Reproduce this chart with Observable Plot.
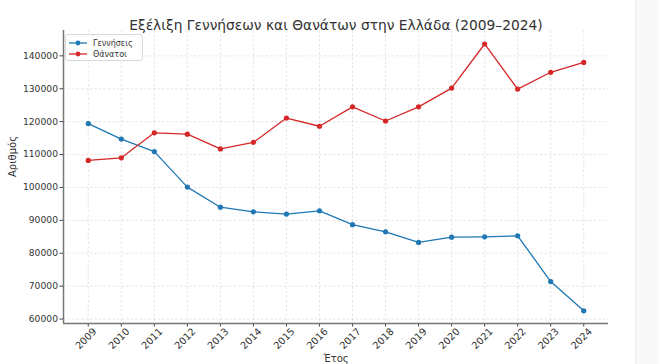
<!DOCTYPE html>
<html>
<head>
<meta charset="utf-8">
<script src="https://cdn.jsdelivr.net/npm/d3@7"></script>
<script src="https://cdn.jsdelivr.net/npm/@observablehq/plot@0.6"></script>
<style>
  html, body { margin: 0; padding: 0; background: #fff; }
  #wrap { position: relative; width: 658px; height: 364px; overflow: hidden; font-family: "DejaVu Sans", sans-serif; }
  #edge { position: absolute; left: 635px; top: 0; width: 23px; height: 364px; background: #f8f8f8; border-left: 1px solid #ececec; }
  #legend { position: absolute; left: 65px; top: 34px; width: 76px; height: 25px; border: 1px solid #d8d8d8; border-radius: 3px; background: rgba(255,255,255,0.85); font-size: 8px; color: #333; }
  .row { position: absolute; left: 3px; height: 10px; display: flex; align-items: center; }
  .row span { margin-left: 6px; }
</style>
</head>
<body>
<div id="wrap">
  <div id="edge"></div>
</div>
<script>
const years = [2009,2010,2011,2012,2013,2014,2015,2016,2017,2018,2019,2020,2021,2022,2023,2024];
const births = [119400,114700,110900,100100,94000,92600,91900,92900,88700,86500,83300,84900,85000,85300,71400,62500];
const deaths = [108200,109000,116600,116200,111700,113700,121100,118600,124500,120200,124500,130200,143600,129900,135000,138000];
const seriesNames = ["Γεννήσεις", "Θάνατοι"];
const colors = ["#1f77b4", "#d62728"];
const yTicks = [60000,70000,80000,90000,100000,110000,120000,130000,140000];
const titleText = "Εξέλιξη Γεννήσεων και Θανάτων στην Ελλάδα (2009–2024)";
const xLabel = "Έτος";
const yLabel = "Αριθμός";

const rows = [];
years.forEach((y, i) => {
  rows.push({year: y, value: births[i], series: seriesNames[0]});
  rows.push({year: y, value: deaths[i], series: seriesNames[1]});
});

const xDomain = [2008.25, 2024.75];
const yDomain = [58650, 147700];

const chart = Plot.plot({
  width: 658,
  height: 364,
  marginLeft: 63,
  marginRight: 50,
  marginTop: 30,
  marginBottom: 41,
  style: {fontFamily: "DejaVu Sans, sans-serif", fontSize: "9.2px", color: "#333", background: "transparent"},
  x: {domain: xDomain, label: null},
  y: {domain: yDomain, label: null},
  color: {domain: seriesNames, range: colors},
  marks: [
    Plot.gridX(years, {stroke: "#b8b8b8", strokeOpacity: 0.6, strokeDasharray: "2.5,2", strokeWidth: 0.6}),
    Plot.gridY(yTicks, {stroke: "#b8b8b8", strokeOpacity: 0.6, strokeDasharray: "2.5,2", strokeWidth: 0.6}),
    Plot.axisY(yTicks, {tickFormat: d => String(d), tickSize: 3.5, tickPadding: 2, stroke: "#444", fill: "#333", label: null}),
    Plot.axisX(years, {tickFormat: () => "", tickSize: 3.5, stroke: "#444", label: null}),
    Plot.text(years, {x: d => d, frameAnchor: "bottom", dy: 17.5, rotate: -45, text: d => String(d), textAnchor: "middle", fill: "#333", fontSize: 9.8}),
    Plot.ruleX([xDomain[0]], {stroke: "#777", strokeWidth: 1.5}),
    Plot.ruleY([yDomain[0]], {stroke: "#777", strokeWidth: 1.5}),
    Plot.line(rows, {x: "year", y: "value", stroke: "series", strokeWidth: 1.3}),
    Plot.dot(rows, {x: "year", y: "value", fill: "series", r: 2.6}),
    Plot.text([titleText], {frameAnchor: "top", dy: -10, text: d => d, fontSize: 13.8, fill: "#333"}),
    Plot.text([xLabel], {frameAnchor: "bottom", dy: 38, text: d => d, fontSize: 10, fill: "#333"}),
    Plot.text([yLabel], {frameAnchor: "left", dx: -51, rotate: -90, text: d => d, fontSize: 10, fill: "#333"})
  ]
});

const wrap = document.getElementById("wrap");
wrap.appendChild(chart);
chart.style.position = "absolute";
chart.style.left = "0";
chart.style.top = "0";

const legend = document.createElement("div");
legend.id = "legend";
seriesNames.forEach((name, i) => {
  const row = document.createElement("div");
  row.className = "row";
  row.style.top = (3 + i * 11) + "px";
  row.innerHTML = `<svg width="18" height="8"><line x1="0" y1="4" x2="18" y2="4" stroke="${colors[i]}" stroke-width="1.3"/><circle cx="9" cy="4" r="2.4" fill="${colors[i]}"/></svg><span>${name}</span>`;
  legend.appendChild(row);
});
wrap.appendChild(legend);
</script>
</body>
</html>
